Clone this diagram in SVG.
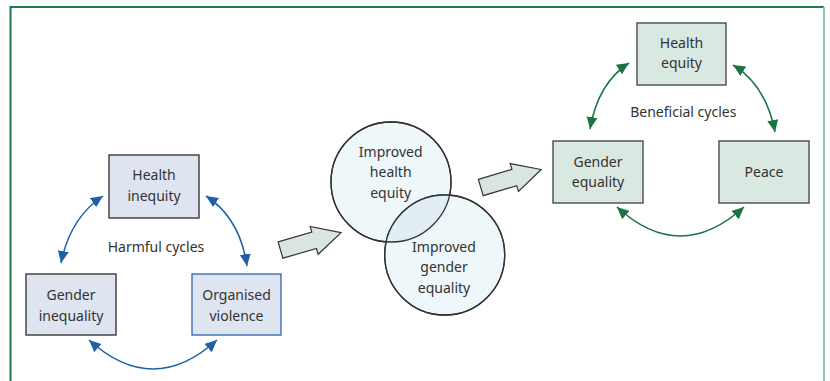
<svg xmlns="http://www.w3.org/2000/svg" width="830" height="381" viewBox="0 0 830 381">
<style>
text{font-family:"Noto Sans","Open Sans","DejaVu Sans",sans-serif;font-size:14px;fill:#333;text-anchor:middle}
.bbox{fill:#dfe4f1;stroke:#3a3a3a;stroke-width:1.4}
.gbox{fill:#d9e8e1;stroke:#4a4a4a;stroke-width:1.4}
.circ{fill:#eef7fa;stroke:#333;stroke-width:1.3}
.blk{fill:#d9e6df;stroke:#333;stroke-width:1.2;stroke-linejoin:miter}
.bl{fill:none;stroke:#1f5fa8;stroke-width:1.5}
.gl{fill:none;stroke:#1a7340;stroke-width:1.5}
</style>
<defs>
<marker id="ab" markerUnits="userSpaceOnUse" markerWidth="14" markerHeight="12" refX="12" refY="5.5" orient="auto-start-reverse"><path d="M0,0 L12,5.5 L0,11 Z" fill="#1f5fa8"/></marker>
<marker id="ag" markerUnits="userSpaceOnUse" markerWidth="14" markerHeight="12" refX="12" refY="5.5" orient="auto-start-reverse"><path d="M0,0 L12,5.5 L0,11 Z" fill="#1a7340"/></marker>
<clipPath id="c1"><circle cx="391" cy="182" r="60"/></clipPath>
<polygon id="blockarrow" points="0,-8.5 35,-8.5 35,-14.5 63,0 35,14.5 35,8.5 0,8.5"/>
</defs>
<g id="frame">
<path d="M10.5,381 V7 H824" fill="none" stroke="#1e7d4b" stroke-width="2"/>
<path d="M824,7 V381" fill="none" stroke="#8cc6a8" stroke-width="2"/>
</g>
<g id="connectors">
<path class="bl" d="M61,263 Q70,218 103,196" marker-start="url(#ab)" marker-end="url(#ab)"/>
<path class="bl" d="M206,196 Q240,218 247,266" marker-start="url(#ab)" marker-end="url(#ab)"/>
<path class="bl" d="M89,340 Q153,398 217,340" marker-start="url(#ab)" marker-end="url(#ab)"/>
<path class="gl" d="M590,129 Q598,83 629,63" marker-start="url(#ag)" marker-end="url(#ag)"/>
<path class="gl" d="M733,65 Q766,85 775,132" marker-start="url(#ag)" marker-end="url(#ag)"/>
<path class="gl" d="M617,207 Q680,265 744,207" marker-start="url(#ag)" marker-end="url(#ag)"/>
<use href="#blockarrow" class="blk" transform="translate(280.5,250) rotate(-16)"/>
<use href="#blockarrow" class="blk" transform="translate(480.8,187.5) rotate(-16.6)"/>
</g>
<g id="node-health-inequity">
<rect class="bbox" x="109" y="155" width="90" height="63"/>
<text x="154" y="180">Health</text><text x="154" y="200.5">inequity</text>
</g>
<g id="node-gender-inequality">
<rect class="bbox" x="26" y="274" width="90" height="61"/>
<text x="71" y="300">Gender</text><text x="71" y="320.5">inequality</text>
</g>
<g id="node-organised-violence">
<rect class="bbox" x="192" y="274" width="89" height="61" style="stroke:#3a6fb0"/>
<text x="236.5" y="300">Organised</text><text x="236.5" y="320.5">violence</text>
</g>
<text id="label-harmful" x="156" y="251.5">Harmful cycles</text>
<g id="node-improved-health">
<circle class="circ" cx="391" cy="182" r="60"/>
</g>
<g id="node-improved-gender">
<circle class="circ" cx="444.7" cy="255" r="60"/>
</g>
<g id="overlap">
<circle cx="444.7" cy="255" r="60" fill="#e1eff5" clip-path="url(#c1)"/>
<circle cx="391" cy="182" r="60" fill="none" stroke="#333" stroke-width="1.3"/>
<circle cx="444.7" cy="255" r="60" fill="none" stroke="#333" stroke-width="1.3"/>
<text x="390.7" y="156.5">Improved</text><text x="390.7" y="177">health</text><text x="390.7" y="197.5">equity</text>
<text x="444" y="251.5">Improved</text><text x="444" y="272">gender</text><text x="444" y="292.5">equality</text>
</g>
<g id="node-health-equity">
<rect class="gbox" x="637" y="23" width="89" height="62"/>
<text x="681.5" y="47.5">Health</text><text x="681.5" y="68">equity</text>
</g>
<g id="node-gender-equality">
<rect class="gbox" x="553" y="141" width="90" height="62"/>
<text x="598" y="166.5">Gender</text><text x="598" y="187">equality</text>
</g>
<g id="node-peace">
<rect class="gbox" x="719" y="141" width="90" height="62"/>
<text x="764" y="176.5">Peace</text>
</g>
<text id="label-beneficial" x="683.3" y="116.5">Beneficial cycles</text>
</svg>
